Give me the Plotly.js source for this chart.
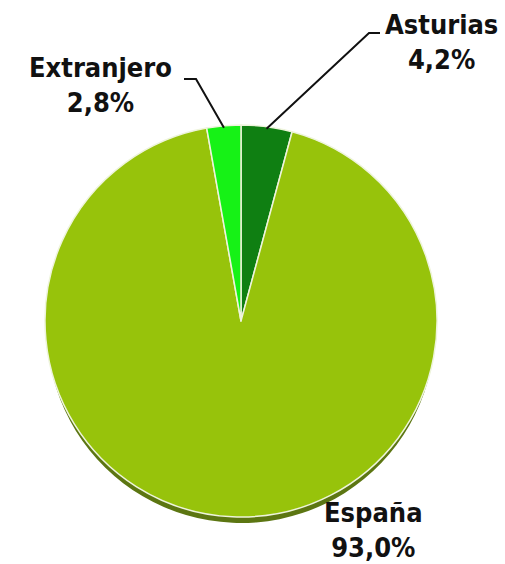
<!DOCTYPE html>
<html>
<head>
<meta charset="utf-8">
<script src="https://cdn.plot.ly/plotly-3.0.1.min.js"></script>
<style>
  html, body { margin: 0; padding: 0; background: #fff; }
  #chart { width: 505px; height: 564px; }
</style>
</head>
<body>
<div id="chart"></div>
<script>
var regions = ['Asturias', 'España', 'Extranjero'];
var shares = [4.2, 93.0, 2.8];
var shareLabels = ['4,2%', '93,0%', '2,8%'];
var sliceColors = ['#0f7f12', '#97c30b', '#16f216'];

var W = 505, H = 564;
// pie geometry in pixels
var cx = 241, cy = 321, r = 196;
function px(x) { return x / W; }
function py(y) { return 1 - y / H; }

var dom = { x: [px(cx - r), px(cx + r)], y: [py(cy + r), py(cy - r)] };
var shadowDom = { x: [px(cx - r + 2), px(cx + r - 2)], y: [py(cy + r + 6), py(cy - r + 10)] };

var shadow = {
  type: 'pie',
  values: shares,
  labels: regions,
  sort: false,
  direction: 'clockwise',
  textinfo: 'none',
  hoverinfo: 'skip',
  showlegend: false,
  domain: shadowDom,
  marker: { colors: ['#5c7612', '#5c7612', '#5c7612'], line: { width: 0 } }
};

var main = {
  type: 'pie',
  values: shares,
  labels: regions,
  sort: false,
  direction: 'clockwise',
  textinfo: 'none',
  showlegend: false,
  domain: dom,
  marker: { colors: sliceColors, line: { color: '#eef4dc', width: 1.5 } }
};

// edge point at the middle of a slice (clockwise from 12 o'clock)
var total = shares.reduce(function (a, b) { return a + b; }, 0);
function edgePoint(i) {
  var before = 0;
  for (var k = 0; k < i; k++) before += shares[k];
  var ang = (before + shares[i] / 2) / total * 2 * Math.PI;
  return [cx + (r - 2) * Math.sin(ang), cy - (r - 2) * Math.cos(ang)];
}

// label positions and leader elbows (pixels)
var labelPos = [[441, 42], [373, 530], [100, 85]];
var elbows = [[[369, 33], [380, 33]], null, [[196, 79], [184, 79]]];

var font = { family: 'DejaVu Sans Condensed, DejaVu Sans', size: 27, color: '#111' };
var annotations = regions.map(function (name, i) {
  return {
    xref: 'paper', yref: 'paper',
    x: px(labelPos[i][0]), y: py(labelPos[i][1]),
    xanchor: 'center', yanchor: 'middle',
    text: '<b>' + name + '<br>' + shareLabels[i] + '</b>',
    showarrow: false,
    font: font
  };
});

var shapes = [];
elbows.forEach(function (el, i) {
  if (!el) return;
  var p = edgePoint(i);
  var path = 'M' + px(p[0]) + ',' + py(p[1]) +
    ' L' + px(el[0][0]) + ',' + py(el[0][1]) +
    ' L' + px(el[1][0]) + ',' + py(el[1][1]);
  shapes.push({
    type: 'path', xref: 'paper', yref: 'paper', path: path,
    line: { color: '#111', width: 2 }
  });
});

var layout = {
  width: W, height: H,
  margin: { l: 0, r: 0, t: 0, b: 0 },
  paper_bgcolor: '#fff',
  annotations: annotations,
  shapes: shapes
};

Plotly.newPlot('chart', [shadow, main], layout, { displayModeBar: false });
</script>
</body>
</html>
